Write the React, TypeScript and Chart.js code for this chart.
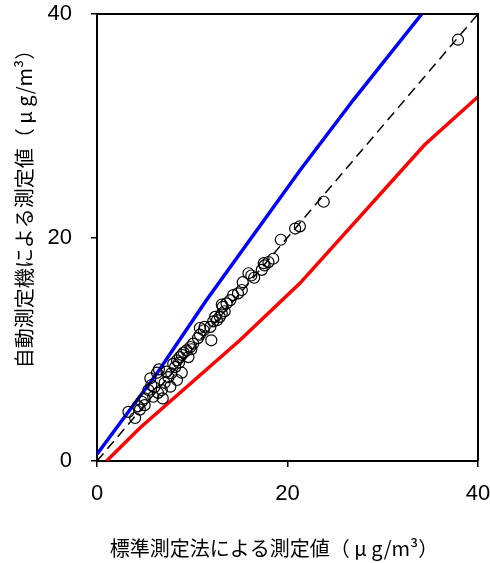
import React, { useEffect, useRef } from "react";
import { Chart, registerables } from "chart.js";

Chart.register(...registerables);

// ---- data ----
const axisMin = 0;
const axisMax = 40;
const tickStep = 20;
const xTitle = "標準測定法による測定値（ μ g/m³）";
const yTitle = "自動測定機による測定値（ μ g/m³）";

// measured pairs (standard method vs automatic monitor)
const measuredX = [
  3.3, 4.0, 4.3, 4.5, 4.7, 5.0, 5.0, 5.4, 5.6, 5.7, 5.9, 6.3, 6.4, 6.5, 6.8, 6.9,
  7.1, 7.5, 7.7, 7.8, 8.0, 8.2, 8.4, 8.4, 8.6, 8.7, 8.9, 8.9, 9.1, 9.4, 9.8, 9.9,
  10.1, 10.6, 10.8, 10.8, 11.2, 11.3, 11.9, 12.0, 12.2, 12.6, 12.9, 13.1, 13.1, 13.2,
  13.4, 13.6, 14.0, 14.3, 14.8, 15.2, 15.3, 15.9, 16.2, 16.5, 17.3, 17.5, 17.6, 18.0,
  18.5, 19.3, 20.8, 21.3, 23.8, 37.9, 6.0, 7.3, 9.6, 12.4,
];
const measuredY = [
  4.4, 3.85, 4.9, 4.6, 5.3, 5.0, 5.6, 6.35, 7.4, 6.8, 5.75, 7.9, 6.1, 8.2, 6.35, 5.6,
  7.0, 7.5, 6.65, 7.85, 8.7, 8.4, 7.25, 9.0, 8.8, 9.3, 9.5, 7.9, 9.7, 9.9, 10.2, 10.0,
  10.5, 11.0, 11.3, 11.9, 11.7, 12.0, 12.0, 10.8, 12.5, 12.6, 12.9, 13.2, 14.0, 13.8,
  13.4, 14.1, 14.4, 14.85, 15.0, 15.3, 16.0, 16.8, 16.6, 16.4, 17.1, 17.7, 17.5, 17.8,
  18.1, 19.8, 20.8, 21.0, 23.2, 37.7, 6.6, 8.0, 9.3, 12.9,
];

// upper limit line (blue)
const upperX = [0, 1.9, 6.3, 11.5, 21.3, 26.9, 34.1];
const upperY = [0.6, 2.8, 7.85, 14.4, 26.0, 32.3, 40];

// lower limit line (red)
const lowerX = [1.0, 4.5, 15.0, 21.3, 34.4, 40];
const lowerY = [0, 2.95, 10.8, 15.9, 28.3, 32.6];

// 1:1 line
const identityX = [0, 40];
const identityY = [0, 40];

const toPoints = (xs: number[], ys: number[]) => xs.map((x, i) => ({ x, y: ys[i] }));

const JP_FONT = '"Noto Sans CJK JP", sans-serif';
const NUM_FONT = '"Liberation Sans", Arial, sans-serif';

const frameAndTitles = {
  id: "frameAndTitles",
  afterDatasetsDraw(chart: any) {
    const { ctx, chartArea } = chart;
    ctx.save();
    ctx.strokeStyle = "#000";
    ctx.lineWidth = 2;
    ctx.beginPath();
    ctx.moveTo(chartArea.left, chartArea.top);
    ctx.lineTo(chartArea.right, chartArea.top);
    ctx.lineTo(chartArea.right, chartArea.bottom);
    ctx.stroke();
    ctx.restore();
  },
  afterDraw(chart: any) {
    const { ctx } = chart;
    ctx.save();
    ctx.fillStyle = "#000";
    ctx.font = `20px ${JP_FONT}`;
    ctx.textAlign = "center";
    ctx.textBaseline = "middle";
    ctx.fillText(xTitle, 274, 548);
    ctx.translate(24, 204);
    ctx.rotate(-Math.PI / 2);
    ctx.fillText(yTitle, 0, 0);
    ctx.restore();
  },
};

export default function App() {
  const canvasRef = useRef<HTMLCanvasElement | null>(null);

  useEffect(() => {
    if (!canvasRef.current) return;
    const axisCommon = (fit: (s: any) => void) => ({
      type: "linear" as const,
      min: axisMin,
      max: axisMax,
      afterFit: (s: any) => {
        fit(s);
        s.paddingTop = 0;
        s.paddingBottom = 0;
        s.paddingLeft = 0;
        s.paddingRight = 0;
      },
      ticks: {
        stepSize: tickStep,
        color: "#000",
        font: { family: NUM_FONT, size: 22 },
      },
      grid: {
        drawOnChartArea: false,
        drawTicks: true,
        tickLength: 6,
        color: "#000",
        lineWidth: 1.5,
      },
      border: { display: true, color: "#000", width: 2 },
    });
    const xScale: any = axisCommon((s: any) => {
      s.height = 102;
    });
    xScale.ticks.padding = 14;
    const yScale: any = axisCommon((s: any) => {
      s.width = 97;
    });
    yScale.ticks.padding = 19;

    const chart = new Chart(canvasRef.current, {
      type: "scatter",
      data: {
        datasets: [
          {
            label: "測定値",
            data: toPoints(measuredX, measuredY),
            pointStyle: "circle",
            pointRadius: 5.5,
            borderColor: "#000",
            borderWidth: 1.2,
            backgroundColor: "rgba(0,0,0,0)",
            order: 0,
          },
          {
            label: "1:1",
            data: toPoints(identityX, identityY),
            showLine: true,
            borderColor: "#000",
            borderWidth: 1.5,
            borderDash: [10, 6],
            pointRadius: 0,
            order: 1,
          },
          {
            label: "上限",
            data: toPoints(upperX, upperY),
            showLine: true,
            borderColor: "#0000ff",
            borderWidth: 3.5,
            pointRadius: 0,
            order: 2,
          },
          {
            label: "下限",
            data: toPoints(lowerX, lowerY),
            showLine: true,
            borderColor: "#ff0000",
            borderWidth: 3.5,
            pointRadius: 0,
            order: 3,
          },
        ],
      },
      options: {
        responsive: false,
        animation: false,
        layout: { padding: { left: 0, right: 12, top: 14, bottom: 0 } },
        plugins: {
          legend: { display: false },
          tooltip: { enabled: false },
        },
        scales: { x: xScale, y: yScale },
      },
      plugins: [frameAndTitles],
    });
    return () => chart.destroy();
  }, []);

  return (
    <div style={{ position: "fixed", left: 0, top: 0, width: 490, height: 563, background: "#fff" }}>
      <canvas ref={canvasRef} width={490} height={563} style={{ display: "block" }} />
    </div>
  );
}
